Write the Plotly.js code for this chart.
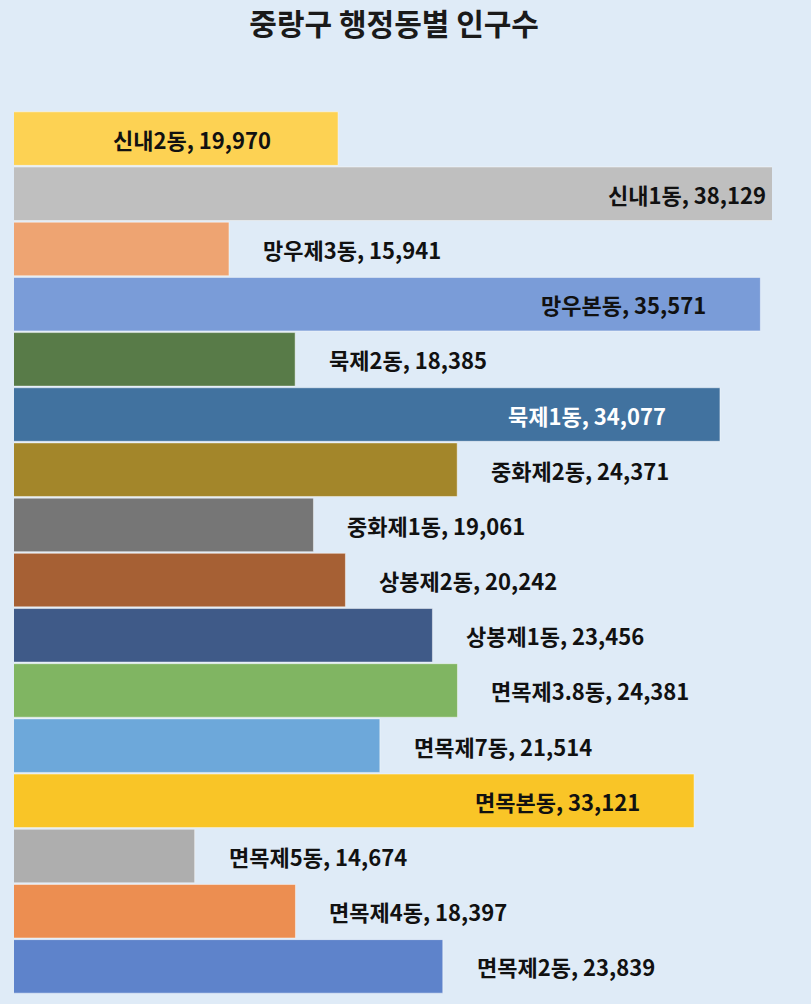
<!DOCTYPE html>
<html>
<head>
<meta charset="utf-8">
<script src="https://cdn.plot.ly/plotly-3.0.1.min.js"></script>
<style>
  html, body { margin: 0; padding: 0; background: #DFEBF7; }
  #chart { width: 811px; height: 1004px; }
</style>
</head>
<body>
<div id="chart"></div>
<script>
// 중랑구 행정동별 인구수 - horizontal bars, top to bottom
var dongs = ['신내2동', '신내1동', '망우제3동', '망우본동', '묵제2동', '묵제1동',
             '중화제2동', '중화제1동', '상봉제2동', '상봉제1동', '면목제3.8동', '면목제7동',
             '면목본동', '면목제5동', '면목제4동', '면목제2동'];
var population = [19970, 38129, 15941, 35571, 18385, 34077,
                  24371, 19061, 20242, 23456, 24381, 21514,
                  33121, 14674, 18397, 23839];
var barColors = ['#FDD253', '#BFBFBF', '#EEA472', '#7A9CD8', '#587B48', '#41729F',
                 '#A3862A', '#767676', '#A66034', '#3F5A88', '#80B562', '#6DA8DA',
                 '#F9C527', '#AEAEAE', '#EC8E51', '#5E83CB'];
// where each label sits: center of bar, inside end, or outside
var labelPlace = ['center', 'in', 'out', 'in', 'out', 'in',
                  'out', 'out', 'out', 'out', 'out', 'out',
                  'in', 'out', 'out', 'out'];

var xMin = 8000, xMax = 36000;

function fmt(v) {
    return v.toString().replace(/\B(?=(\d{3})+(?!\d))/g, ',');
}
function isDark(hex) {
    var r = parseInt(hex.substr(1, 2), 16), g = parseInt(hex.substr(3, 2), 16), b = parseInt(hex.substr(5, 2), 16);
    return (0.299 * r + 0.587 * g + 0.114 * b) / 255 < 0.45;
}

var trace = {
    type: 'bar',
    orientation: 'h',
    y: dongs,
    x: population,
    marker: {color: barColors, line: {color: 'rgba(255,255,255,0.45)', width: 1}},
    hoverinfo: 'none'
};

var annotations = [];
for (var i = 0; i < dongs.length; i++) {
    var v = population[i];
    var a = {
        y: dongs[i], yref: 'y', xref: 'x',
        text: dongs[i] + ', ' + fmt(v),
        showarrow: false,
        font: {family: 'Noto Sans CJK KR', size: 22, color: '#111111', weight: 'bold'},
        yanchor: 'middle'
    };
    if (labelPlace[i] == 'center') {
        a.x = (xMin + v) / 2; a.xanchor = 'center'; a.xshift = 16;
    } else if (labelPlace[i] == 'in') {
        a.x = Math.min(v, xMax); a.xanchor = 'right';
        a.xshift = v > xMax ? -4 : -52;
        if (isDark(barColors[i])) a.font.color = '#ffffff';
    } else {
        a.x = v; a.xanchor = 'left'; a.xshift = 32;
    }
    annotations.push(a);
}

var layout = {
    width: 811,
    height: 1004,
    paper_bgcolor: '#DFEBF7',
    plot_bgcolor: '#DFEBF7',
    margin: {l: 14, r: 39, t: 111, b: 10, pad: 0},
    bargap: 0.03,
    showlegend: false,
    title: {
        text: '중랑구 행정동별 인구수',
        font: {family: 'Noto Sans CJK KR', size: 30, color: '#1a1a1a', weight: 'bold'},
        xref: 'container', x: 0.486,
        yref: 'container', y: 0.976, yanchor: 'middle'
    },
    xaxis: {
        range: [xMin, xMax],
        visible: false,
        showgrid: false,
        zeroline: false
    },
    yaxis: {
        autorange: 'reversed',
        visible: false,
        showgrid: false
    },
    annotations: annotations
};

Plotly.newPlot('chart', [trace], layout, {displayModeBar: false, staticPlot: true});
</script>
</body>
</html>
